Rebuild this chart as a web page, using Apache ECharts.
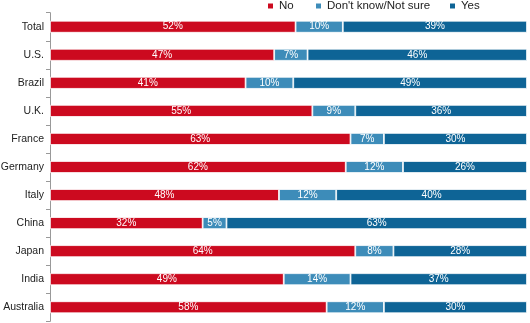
<!DOCTYPE html>
<html><head><meta charset="utf-8">
<script src="https://cdn.jsdelivr.net/npm/echarts@6/dist/echarts.min.js"></script>
<style>html,body{margin:0;padding:0;background:#fff}#c{width:530px;height:323px}</style>
</head><body><div id="c"></div>
<script>
const categories = ['Total','U.S.','Brazil','U.K.','France','Germany','Italy','China','Japan','India','Australia'];
const noVals = [52,47,41,55,63,62,48,32,64,49,58];
const dkVals = [10,7,10,9,7,12,12,5,8,14,12];
const yesVals = [39,46,49,36,30,26,40,63,28,37,30];
const seriesNames = ['No',"Don't know/Not sure",'Yes'];
const colors = ['#cc0a1f','#3d8cb9','#0e6496'];

const totals = categories.map((_,i)=>noVals[i]+dkVals[i]+yesVals[i]);
function share(arr){ return arr.map((v,i)=>({value: v/totals[i]*100, raw: v})); }
const raws = [noVals, dkVals, yesVals];
const legendLefts = [266, 314, 448];

const chart = echarts.init(document.getElementById('c'));
chart.setOption({
  animation:false,
  backgroundColor:'#fff',
  textStyle:{fontFamily:'Liberation Sans, Arial, sans-serif'},
  legend: seriesNames.map((n,k)=>({
    data:[n], top:0, left:legendLefts[k], padding:0, itemWidth:7, itemHeight:7, itemGap:5,
    icon:'rect',
    textStyle:{fontSize:11.5, color:'#222', padding:[0,0,0,0]}
  })),
  grid:{left:50, right:3, top:12.7, bottom:1.7, containLabel:false, outerBoundsMode:'none'},
  xAxis:{type:'value', min:0, max:100, show:false},
  yAxis:{type:'category', data:categories, inverse:true,
    axisLine:{lineStyle:{color:'#999'}},
    axisTick:{show:true, length:4, lineStyle:{color:'#999'}},
    axisLabel:{fontSize:10.5, color:'#222', margin:6}
  },
  series: seriesNames.map((n,k)=>({
    name:n, type:'bar', stack:'s', barWidth:12,
    data: share(raws[k]),
    itemStyle:{color:colors[k], borderColor:'#fff', borderWidth:0.8},
    label:{show:true, position:'inside', color:'#fff', fontSize:10,
      formatter:p=>p.data.raw+'%'}
  }))
});
</script></body></html>
